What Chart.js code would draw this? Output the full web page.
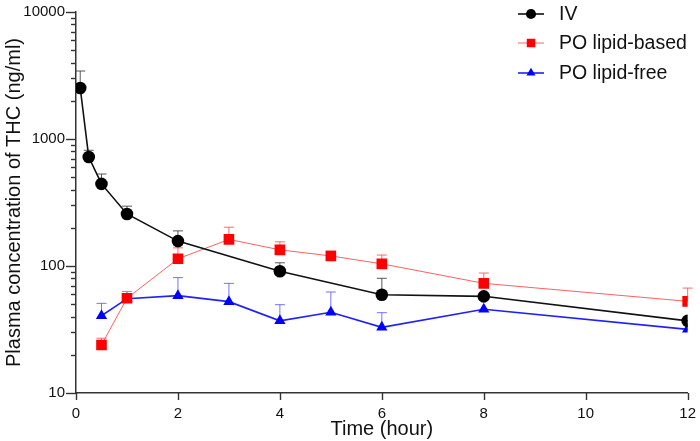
<!DOCTYPE html>
<html><head><meta charset="utf-8">
<script src="https://cdn.jsdelivr.net/npm/chart.js@4.4.0/dist/chart.umd.min.js"></script>
<style>html,body{margin:0;padding:0;background:#fff;}canvas{display:block;}</style>
</head><body>
<canvas id="c" width="700" height="441"></canvas>
<script>
// ---- data ----
const seriesLabels = ["IV", "PO lipid-based", "PO lipid-free"];
const ivTime   = [0.083, 0.25, 0.5, 1, 2, 4, 6, 8, 12];
const ivMean   = [2520, 721, 443, 257, 157, 91, 59.4, 57.7, 37];
const ivUpper  = [3430, 815, 530, 296, 189, 106, 80, null, null];
const poTime   = [0.5, 1, 2, 3, 4, 5, 6, 8, 12];
const lipidMean  = [23.9, 55.7, 114, 162, 134, 120, 104, 73, 52.7];
const lipidUpper = [27, 63, 139, 202, 155, 131, 122, 88, 67];
const freeMean   = [40.6, 55.3, 58.4, 52.4, 37, 43.2, 32.9, 45.6, 31.7];
const freeUpper  = [50.8, null, 81, 73, 49.6, 62.4, 42.9, null, null];
const yMajorTicks = [10, 100, 1000, 10000];
const xTicks = [0, 2, 4, 6, 8, 10, 12];

const FONT = "'Liberation Sans', Arial, Helvetica, sans-serif";

function pts(xs, ys){ return xs.map((x,i)=>({x:x, y:ys[i]})); }

const datasets = [
  {label: seriesLabels[0], data: pts(ivTime, ivMean), upper: ivUpper,
   borderColor:'#111', backgroundColor:'#000', borderWidth:1.6, pointStyle:'circle', pointRadius:6.3,
   errColor:'rgba(60,60,60,0.85)'},
  {label: seriesLabels[1], data: pts(poTime, lipidMean), upper: lipidUpper,
   borderColor:'#ff6060', backgroundColor:'#ff0000', borderWidth:1, pointStyle:'rect', pointRadius:7.5,
   errColor:'rgba(255,80,80,0.85)'},
  {label: seriesLabels[2], data: pts(poTime, freeMean), upper: freeUpper,
   borderColor:'#2020ff', backgroundColor:'#0000ff', borderWidth:1.6, pointStyle:'triangle', pointRadius:6.5,
   errColor:'rgba(80,80,255,0.8)'}
];
datasets.forEach(d=>{ d.pointBorderColor = d.backgroundColor; d.pointBorderWidth = 0; d.tension = 0; d.fill = false; });

const errorBars = {
  id:'errorBars',
  beforeDatasetsDraw(chart){
    const ctx = chart.ctx, xs = chart.scales.x, ys = chart.scales.y;
    chart.data.datasets.forEach(ds=>{
      ctx.save();
      ctx.strokeStyle = ds.errColor; ctx.lineWidth = 1;
      ds.data.forEach((p,i)=>{
        const u = ds.upper[i]; if (u == null) return;
        const px = xs.getPixelForValue(p.x), py = ys.getPixelForValue(p.y), pu = ys.getPixelForValue(u);
        ctx.beginPath(); ctx.moveTo(px, py); ctx.lineTo(px, pu);
        ctx.moveTo(px-5, pu); ctx.lineTo(px+5, pu); ctx.stroke();
      });
      ctx.restore();
    });
  }
};

const tickMarks = {
  id:'tickMarks',
  afterDraw(chart){
    const ctx = chart.ctx, xs = chart.scales.x, ys = chart.scales.y, a = chart.chartArea;
    ctx.save(); ctx.strokeStyle = '#333'; ctx.lineWidth = 1.4;
    ys.ticks.forEach(t=>{
      const py = Math.round(ys.getPixelForValue(t.value))+0.5;
      const major = yMajorTicks.includes(t.value);
      ctx.beginPath(); ctx.moveTo(a.left - (major?10:5), py); ctx.lineTo(a.left, py); ctx.stroke();
    });
    xs.ticks.forEach(t=>{
      const px = Math.round(xs.getPixelForValue(t.value))+0.5;
      ctx.beginPath(); ctx.moveTo(px, a.bottom); ctx.lineTo(px, a.bottom + 7); ctx.stroke();
    });
    ctx.restore();
  }
};

const legendPlugin = {
  id:'customLegend',
  afterDraw(chart){
    const ctx = chart.ctx;
    const x0 = 518, x1 = 544, tx = 559, ys0 = [14, 43, 73];
    chart.data.datasets.forEach((ds,i)=>{
      const y = ys0[i];
      ctx.save();
      ctx.strokeStyle = ds.borderColor; ctx.lineWidth = ds.borderWidth;
      ctx.beginPath(); ctx.moveTo(x0, y); ctx.lineTo(x1, y); ctx.stroke();
      ctx.fillStyle = ds.backgroundColor; ctx.strokeStyle = ds.backgroundColor;
      Chart.helpers.drawPoint(ctx, {pointStyle: ds.pointStyle, radius: ds.pointRadius*0.8, borderWidth:0, rotation:0}, (x0+x1)/2, y);
      ctx.fillStyle = '#111'; ctx.font = '19.5px ' + FONT; ctx.textBaseline = 'middle'; ctx.textAlign='left';
      ctx.fillText(ds.label, tx, y+1);
      ctx.restore();
    });
  }
};

new Chart(document.getElementById('c'), {
  type:'line',
  data:{ datasets },
  plugins:[errorBars, tickMarks, legendPlugin],
  options:{
    responsive:false, animation:false,
    layout:{ padding:{ left:2, right:6, top:5, bottom:0 } },
    plugins:{ legend:{display:false}, tooltip:{enabled:false} },
    scales:{
      x:{ type:'linear', min:0, max:12,
        afterBuildTicks(s){ s.ticks = xTicks.map(v=>({value:v})); },
        afterFit(s){ s.height = 48; },
        grid:{ display:false },
        border:{ display:true, color:'#333', width:1.5 },
        ticks:{ padding:4, color:'#111', font:{ family:FONT, size:15 }, maxRotation:0 },
        title:{ display:true, text:'Time (hour)', color:'#111', font:{ family:FONT, size:20 }, padding:{top:0,bottom:0} }
      },
      y:{ type:'logarithmic', min:10, max:10000,
        afterBuildTicks(s){
          const t = [];
          for (let k=0;k<yMajorTicks.length;k++){
            const b = yMajorTicks[k];
            if (k === yMajorTicks.length-1) { t.push({value:b}); break; }
            for (let m=1;m<10;m++) t.push({value:b*m});
          }
          s.ticks = t;
        },
        afterFit(s){ s.width = 74; },
        grid:{ display:false },
        border:{ display:true, color:'#333', width:1.5 },
        ticks:{ padding:3, color:'#111', font:{ family:FONT, size:15 }, autoSkip:false,
          callback(v){ return yMajorTicks.includes(v) ? String(v) : ''; } },
        title:{ display:true, text:'Plasma concentration of THC (ng/ml)', color:'#111', font:{ family:FONT, size:20 }, padding:{top:0,bottom:2} }
      }
    }
  }
});
</script>
</body></html>
